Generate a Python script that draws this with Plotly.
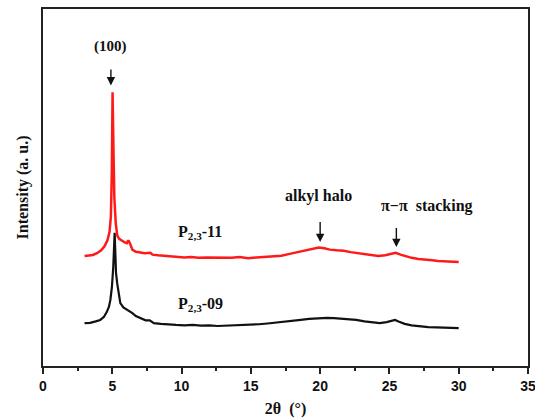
import plotly.graph_objects as go

# P2,3-11 (red)
red_x = [3.0, 3.3, 3.6, 3.9, 4.2, 4.45, 4.65, 4.8, 4.9, 4.97, 5.02, 5.08, 5.15, 5.25, 5.36, 5.5, 5.7, 5.9,
         6.05, 6.16, 6.25, 6.45, 6.7, 7.0, 7.35, 7.75, 7.9, 8.3, 8.8, 9.3, 9.7, 10.2, 10.7, 11.2, 11.8,
         12.4, 13.0, 13.6, 14.2, 14.8, 15.4, 16.0, 16.6, 17.2, 17.8, 18.4, 19.0, 19.5, 19.9, 20.3, 20.7,
         21.2, 21.7, 22.2, 22.7, 23.2, 23.7, 24.2, 24.7, 25.1, 25.45, 25.8, 26.2, 26.6, 27.1, 27.6, 28.1,
         28.5, 29.0, 29.5, 30.0]
red_y = [30.8, 31.0, 31.1, 31.6, 32.4, 33.6, 35.2, 37.5, 42.0, 55.0, 76.7, 62.0, 47.0, 40.0, 36.5, 35.6, 35.0, 34.6,
         34.4, 35.2, 34.6, 32.6, 32.0, 31.8, 31.6, 31.7, 31.2, 31.0, 30.8, 30.6, 30.5, 30.4, 30.5, 30.3, 30.4,
         30.3, 30.4, 30.3, 30.5, 30.2, 30.4, 30.6, 30.7, 30.9, 31.4, 31.9, 32.5, 32.9, 33.2, 33.0, 32.6,
         32.4, 32.3, 31.9, 31.6, 31.3, 31.0, 30.8, 31.0, 31.4, 31.7, 31.2, 30.7, 30.3, 30.0, 29.7, 29.6,
         29.4, 29.3, 29.2, 29.1]

# P2,3-09 (black)
blk_x = [3.0, 3.4, 3.8, 4.13, 4.4, 4.6, 4.76, 4.86, 4.97, 5.07, 5.17, 5.27, 5.36, 5.46, 5.58, 5.8, 6.1, 6.3,
         6.45, 6.7, 7.0, 7.4, 7.7, 8.0, 8.5, 9.0, 9.6, 10.2, 10.8, 11.4, 12.0, 12.6, 13.2, 13.8, 14.4,
         15.0, 15.6, 16.2, 16.8, 17.4, 18.0, 18.6, 19.2, 19.9, 20.5, 21.0, 21.5, 22.0, 22.6, 23.2, 23.8,
         24.3, 24.8, 25.2, 25.4, 25.7, 26.1, 26.6, 27.2, 27.8, 28.4, 29.0, 29.5, 30.0]
blk_y = [12.0, 12.1, 12.5, 12.9, 13.8, 15.1, 16.6, 18.5, 22.0, 27.7, 37.3, 26.0, 23.0, 20.0, 17.6, 16.4, 15.7, 15.3,
         14.8, 14.0, 13.4, 12.8, 12.8, 12.0, 11.8, 11.6, 11.5, 11.4, 11.5, 11.3, 11.4, 11.2, 11.3, 11.2, 11.3,
         11.5, 11.7, 11.9, 12.1, 12.3, 12.6, 12.9, 13.2, 13.4, 13.5, 13.4, 13.3, 13.2, 12.9, 12.5, 12.2,
         12.0, 12.3, 12.8, 12.9, 12.4, 11.8, 11.4, 11.1, 10.9, 10.8, 10.7, 10.6, 10.6]

x_ticks = [0, 5, 10, 15, 20, 25, 30, 35]

serif = "Liberation Serif"
sans = "Liberation Sans"

fig = go.Figure()
fig.add_trace(go.Scatter(x=blk_x, y=blk_y, mode="lines", line=dict(color="#111111", width=2.2), showlegend=False))
fig.add_trace(go.Scatter(x=red_x, y=red_y, mode="lines", line=dict(color="#ff1a1a", width=2.5), showlegend=False))

anns = []
def arrow(x, y_tip, y_tail_px):
    anns.append(dict(x=x, y=y_tip, xref="x", yref="y", ax=0, ay=-y_tail_px, showarrow=True,
                     arrowhead=2, arrowsize=1.2, arrowwidth=1.4, arrowcolor="#111111", text=" "))

def label(x, y, txt, size=16):
    anns.append(dict(x=x, y=y, xref="x", yref="y", text=txt, showarrow=False,
                     font=dict(family=serif, size=size, color="#111111")))

arrow(4.9, 78.6, 26)
label(4.9, 89.5, "<b>(100)</b>", 15)
arrow(20.0, 34.7, 30)
label(19.9, 47.6, "<b>alkyl halo</b>", 16)
arrow(25.5, 33.3, 29)
label(27.7, 44.8, "<b>π−π  stacking</b>", 16)
label(11.3, 37.5, "<b>P<sub>2,3</sub>-11</b>", 16)
label(11.4, 17.1, "<b>P<sub>2,3</sub>-09</b>", 16)

fig.update_layout(
    width=535, height=418,
    margin=dict(l=43, r=7, t=9, b=52),
    paper_bgcolor="white", plot_bgcolor="white",
    annotations=anns,
    xaxis=dict(range=[0, 35], tickvals=x_ticks, ticktext=[f"<b>{v}</b>" for v in x_ticks],
               automargin=False, ticklabeloverflow="allow",
               ticks="outside", ticklen=6, tickwidth=2, tickcolor="#222222",
               minor=dict(dtick=2.5, tick0=0, ticks="outside", ticklen=3, tickwidth=1.5, tickcolor="#222222"),
               showline=True, linecolor="#222222", linewidth=2, mirror=True, showgrid=False, zeroline=False,
               tickfont=dict(family=sans, size=14, color="#111111"),
               title=dict(text="<b>2θ  (°)</b>", font=dict(family=serif, size=16, color="#111111"), standoff=12)),
    yaxis=dict(range=[0, 100], showticklabels=False, ticks="", showline=True, linecolor="#222222",
               automargin=False,
               linewidth=2, mirror=True, showgrid=False, zeroline=False,
               title=dict(text="<b>Intensity (a. u.)</b>", font=dict(family=serif, size=16, color="#111111"),
                          standoff=8)),
)

fig.write_html("out.html")
